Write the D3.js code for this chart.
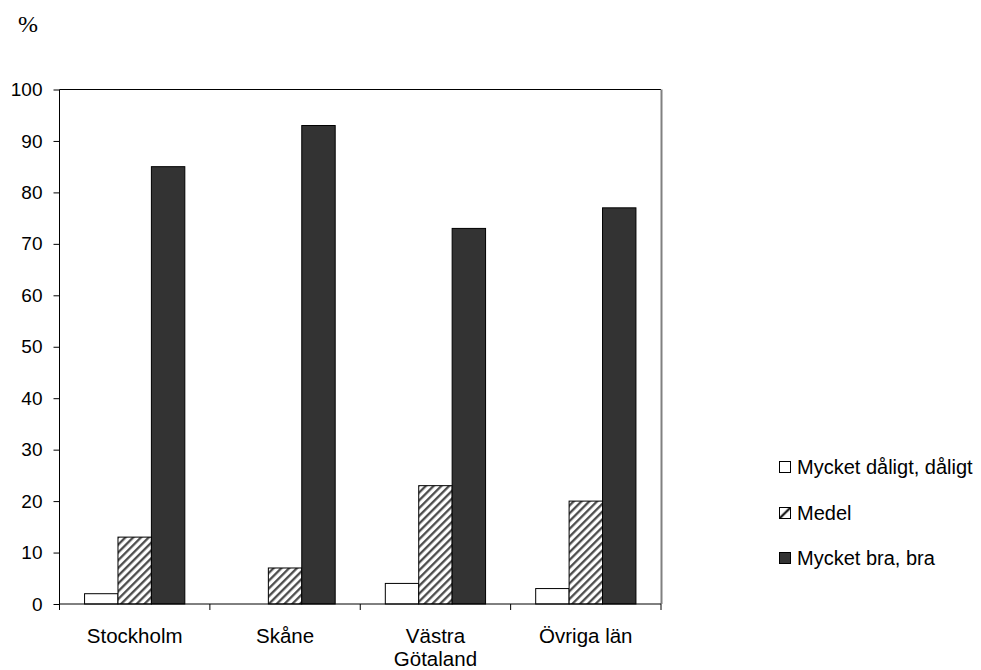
<!DOCTYPE html>
<html>
<head>
<meta charset="utf-8">
<script src="https://cdn.jsdelivr.net/npm/d3@7"></script>
<style>
  html, body { margin: 0; padding: 0; background: #fff; }
  svg { display: block; }
</style>
</head>
<body>
<svg id="chart" width="981" height="670"></svg>
<script>
// Regions on the x axis (each as its label lines)
const categories = ["Stockholm", "Skåne", "Västra Götaland", "Övriga län"];
const categoryLines = [["Stockholm"], ["Skåne"], ["Västra", "Götaland"], ["Övriga län"]];

// Answer groups, in legend order
const seriesNames = ["Mycket dåligt, dåligt", "Medel", "Mycket bra, bra"];

// Share of answers (%) per region for each group
const valuesPoor = [2, 0, 4, 3];
const valuesMedium = [13, 7, 23, 20];
const valuesGood = [85, 93, 73, 77];
const seriesValues = [valuesPoor, valuesMedium, valuesGood];

const yTicks = [0, 10, 20, 30, 40, 50, 60, 70, 80, 90, 100];

const svg = d3.select("#chart");
const plotLeft = 59.5, plotRight = 661, plotTop = 89.5, plotBottom = 604;

// Diagonal hatch for the middle group
const defs = svg.append("defs");
const pat = defs.append("pattern")
  .attr("id", "hatch")
  .attr("patternUnits", "userSpaceOnUse")
  .attr("width", 5.5).attr("height", 5.5)
  .attr("patternTransform", "rotate(45)");
pat.append("rect").attr("width", 5.5).attr("height", 5.5).attr("fill", "#fff");
pat.append("line").attr("x1", 1.2).attr("y1", 0).attr("x2", 1.2).attr("y2", 5.5)
  .attr("stroke", "#444").attr("stroke-width", 2.2);

const legPat = defs.append("pattern")
  .attr("id", "hatchSmall")
  .attr("patternUnits", "objectBoundingBox")
  .attr("width", 1).attr("height", 1);
legPat.append("rect").attr("width", 11).attr("height", 11).attr("fill", "#fff");
legPat.append("line").attr("x1", 0).attr("y1", 11).attr("x2", 11).attr("y2", 0)
  .attr("stroke", "#000").attr("stroke-width", 2);

const fills = ["#ffffff", "url(#hatch)", "#333333"];
const legendFills = ["#ffffff", "url(#hatchSmall)", "#333333"];

const x = d3.scaleBand().domain(categories).range([plotLeft, plotRight]).padding(0);
const bw = x.bandwidth();
const xs = d3.scaleBand().domain(seriesNames).range([bw / 6, bw * 5 / 6]).padding(0);
const y = d3.scaleLinear().domain([0, 100]).range([plotBottom, plotTop]);

// Plot frame: top and right edges
svg.append("line").attr("x1", plotLeft).attr("x2", plotRight).attr("y1", plotTop).attr("y2", plotTop)
  .attr("stroke", "#000").attr("stroke-width", 1);
svg.append("line").attr("x1", plotRight + 0.5).attr("x2", plotRight + 0.5).attr("y1", plotTop).attr("y2", plotBottom)
  .attr("stroke", "#808080").attr("stroke-width", 2);

// Bars
seriesNames.forEach((name, si) => {
  svg.append("g").selectAll("rect")
    .data(categories.map((c, i) => ({ c, v: seriesValues[si][i] })))
    .join("rect")
    .attr("x", d => x(d.c) + xs(name))
    .attr("y", d => y(d.v))
    .attr("width", xs.bandwidth())
    .attr("height", d => y(0) - y(d.v))
    .attr("fill", fills[si])
    .attr("stroke", "#000")
    .attr("stroke-width", d => d.v > 0 ? 1 : 0);
});

// Y axis
const yAxis = svg.append("g").attr("transform", `translate(${plotLeft},0)`)
  .call(d3.axisLeft(y).tickValues(yTicks).tickSize(6).tickPadding(11));
yAxis.selectAll("text").attr("font-family", "Liberation Sans, Arial, sans-serif")
  .attr("font-size", 19).attr("fill", "#000");
yAxis.selectAll("line").attr("stroke", "#000");
yAxis.select(".domain").attr("stroke", "#000").attr("d", `M0,${plotTop}V${plotBottom}`);

// X axis with ticks between categories
const xAxis = svg.append("g").attr("transform", `translate(0,${plotBottom})`);
xAxis.append("line").attr("x1", plotLeft).attr("x2", plotRight).attr("y1", 0).attr("y2", 0)
  .attr("stroke", "#000");
const boundaries = categories.map(c => x(c)).concat([plotRight]);
xAxis.selectAll("line.tick").data(boundaries).join("line")
  .attr("class", "tick")
  .attr("x1", d => d).attr("x2", d => d).attr("y1", 0).attr("y2", 6)
  .attr("stroke", "#000");

const labels = svg.append("g")
  .attr("font-family", "Liberation Sans, Arial, sans-serif")
  .attr("font-size", 20.5).attr("fill", "#000").attr("text-anchor", "middle");
categories.forEach((c, i) => {
  const t = labels.append("text").attr("x", x(c) + bw / 2).attr("y", 643);
  categoryLines[i].forEach((ln, k) => {
    t.append("tspan").attr("x", x(c) + bw / 2).attr("dy", k === 0 ? 0 : 22.5).text(ln);
  });
});

// Unit label
svg.append("text").attr("x", 18).attr("y", 32)
  .attr("font-family", "Liberation Serif, Times New Roman, serif")
  .attr("font-size", 24).attr("fill", "#000").text("%");

// Legend
const legend = svg.append("g").attr("transform", "translate(779,0)");
const legY = [467, 513, 558];
seriesNames.forEach((name, i) => {
  legend.append("rect").attr("x", 0.5).attr("y", legY[i] - 5.5)
    .attr("width", 11).attr("height", 11)
    .attr("fill", legendFills[i]).attr("stroke", "#000").attr("stroke-width", 1);
  legend.append("text").attr("x", 18).attr("y", legY[i] + 7)
    .attr("font-family", "Liberation Sans, Arial, sans-serif")
    .attr("font-size", 20).attr("fill", "#000").text(name);
});
</script>
</body>
</html>
